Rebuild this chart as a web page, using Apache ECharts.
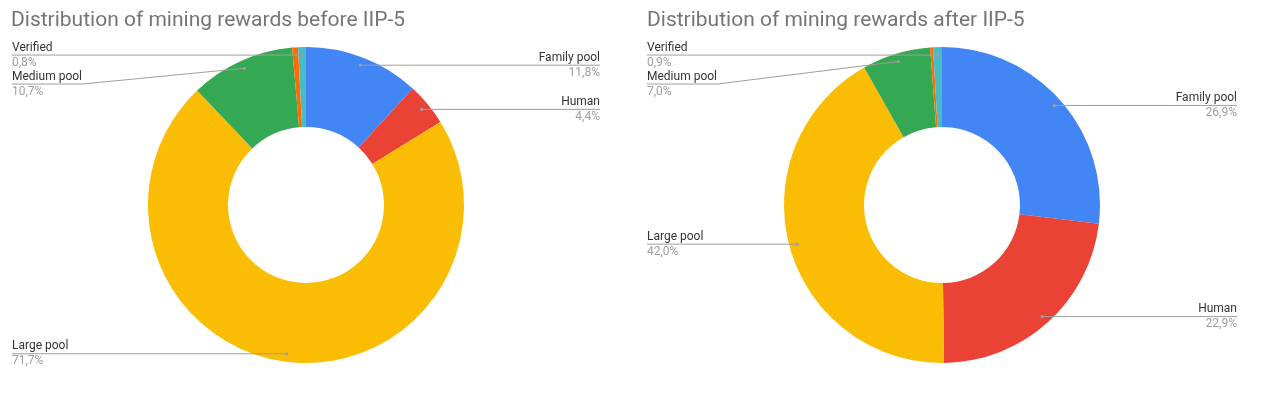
<!DOCTYPE html>
<html>
<head>
    <meta charset="UTF-8">
    <title>Mining rewards</title>
    <script src="https://cdn.jsdelivr.net/npm/echarts@6/dist/echarts.min.js"></script>
    <style>
        html, body { margin: 0; padding: 0; background: #fff; }
        #chart { width: 1280px; height: 398px; }
    </style>
</head>
<body>
<div id="chart"></div>
<script>
    // slice names, clockwise from 12 o'clock
    var categories = ['Family pool', 'Human', 'Large pool', 'Medium pool', 'Other', 'Verified'];
    var beforeValues = [11.8, 4.4, 71.7, 10.7, 0.6, 0.8];
    var afterValues = [26.9, 22.9, 42.0, 7.0, 0.3, 0.9];
    var hiddenLabels = ['Other'];
    var colors = ['#4285F4', '#EA4335', '#FBBC04', '#34A853', '#FF6D01', '#46BDC6'];

    var myChart = echarts.init(document.getElementById('chart'));
    var labelRects = {};   // filled by labelLayout, used to draw leader lines

    function makeData(values) {
        return categories.map(function (name, i) {
            var item = { name: name, value: values[i] };
            if (hiddenLabels.indexOf(name) >= 0) {
                item.label = { show: false };
                item.labelLine = { show: false };
            }
            return item;
        });
    }

    function keepRect(params) {
        if (hiddenLabels.indexOf(categories[params.dataIndex]) < 0) {
            labelRects[params.seriesIndex + '_' + params.dataIndex] = {
                s: params.seriesIndex, d: params.dataIndex, rect: params.labelRect
            };
        }
        return {};
    }

    function pieSeries(values, left, width, edge) {
        return {
            type: 'pie',
            left: left,
            width: width,
            top: 0,
            height: 398,
            center: ['50%', 205],
            radius: [78, 158],
            startAngle: 90,
            clockwise: true,
            avoidLabelOverlap: true,
            data: makeData(values),
            label: {
                alignTo: 'edge',
                edgeDistance: edge,
                formatter: function (p) {
                    return '{n|' + p.name + '}\n{v|' + p.value.toFixed(1).replace('.', ',') + '%}';
                },
                rich: {
                    n: { fontSize: 12, color: '#333333', fontFamily: 'Roboto', lineHeight: 15 },
                    v: { fontSize: 12, color: '#9e9e9e', fontFamily: 'Roboto', lineHeight: 15 }
                }
            },
            labelLine: {
                length: -8,
                length2: 10,
                lineStyle: { opacity: 0 }
            },
            labelLayout: keepRect,
            emphasis: { disabled: true }
        };
    }

    var titleStyle = { fontSize: 21, fontWeight: 'normal', color: '#757575', fontFamily: 'Roboto' };

    myChart.setOption({
        animation: false,
        color: colors,
        title: [{
            text: 'Distribution of mining rewards before IIP-5',
            left: 6,
            top: 5,
            textStyle: titleStyle
        }, {
            text: 'Distribution of mining rewards after IIP-5',
            left: 642,
            top: 5,
            textStyle: titleStyle
        }],
        series: [
            pieSeries(beforeValues, 0, 612, 12),
            pieSeries(afterValues, 640, 604, 7)
        ]
    });

    // google style leaders: dot just inside the outer edge, line running under the label text
    var leaders = [];
    Object.keys(labelRects).forEach(function (k) {
        var it = labelRects[k];
        var r = it.rect;
        var lay = myChart.getModel().getSeriesByIndex(it.s).getData().getItemLayout(it.d);
        if (!lay || !r) return;
        var mid = (lay.startAngle + lay.endAngle) / 2;
        var rr = lay.r - 8;
        var start = [lay.cx + rr * Math.cos(mid), lay.cy + rr * Math.sin(mid)];
        var y = r.y + r.height / 2;
        var leftSide = r.x + r.width / 2 < lay.cx;
        var near = leftSide ? r.x + r.width : r.x;
        var far = leftSide ? r.x : r.x + r.width;
        leaders.push({
            type: 'polyline', silent: true, z: 100,
            shape: { points: [start, [near, y], [far, y]] },
            style: { stroke: '#9e9e9e', lineWidth: 1, fill: null }
        });
        leaders.push({
            type: 'circle', silent: true, z: 101,
            shape: { cx: start[0], cy: start[1], r: 1.6 },
            style: { fill: '#9e9e9e' }
        });
    });
    myChart.setOption({ graphic: { elements: leaders } });
</script>
</body>
</html>
